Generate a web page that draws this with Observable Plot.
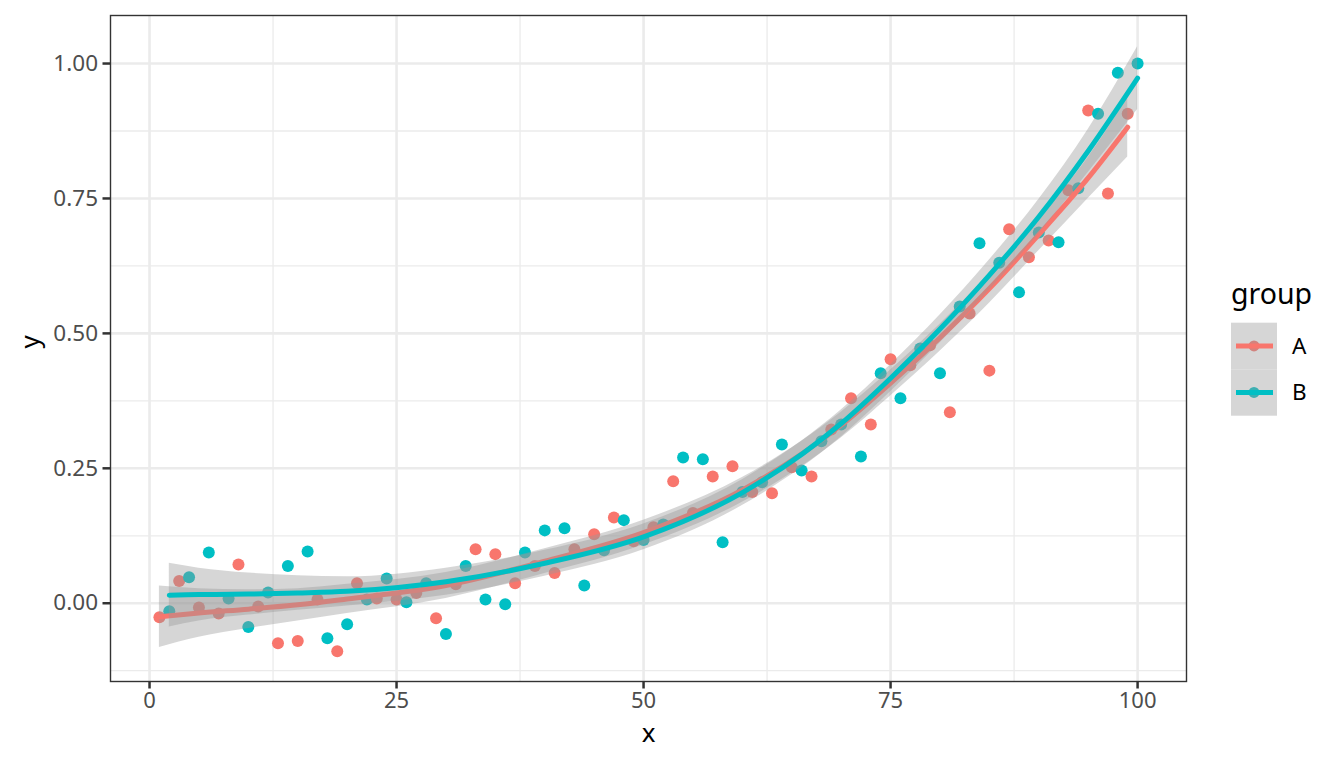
<!DOCTYPE html>
<html>
<head>
<meta charset="utf-8">
<script src="https://cdn.jsdelivr.net/npm/d3@7"></script>
<script src="https://cdn.jsdelivr.net/npm/@observablehq/plot@0.6"></script>
<style>
  html, body { margin: 0; padding: 0; background: #ffffff; }
  #chart { position: relative; width: 1344px; height: 768px; font-family: "Noto Sans", sans-serif; }
  #legend { position: absolute; left: 1220px; top: 270px; }
</style>
</head>
<body>
<div id="chart"></div>
<script>
// ---- data ----
const groups = ["A", "B"];
const groupColors = ["#F8766D", "#00BFC4"];

const xA = [1,3,5,7,9,11,13,15,17,19,21,23,25,27,29,31,33,35,37,39,41,43,45,47,49,51,53,55,57,59,61,63,65,67,69,71,73,75,77,79,81,83,85,87,89,91,93,95,97,99];
const yA = [-0.026,0.041,-0.008,-0.019,0.072,-0.006,-0.074,-0.070,0.007,-0.089,0.037,0.009,0.007,0.019,-0.028,0.035,0.100,0.091,0.037,0.069,0.056,0.100,0.128,0.159,0.115,0.141,0.226,0.167,0.235,0.254,0.206,0.204,0.252,0.235,0.322,0.380,0.331,0.452,0.441,0.478,0.354,0.537,0.431,0.693,0.641,0.672,0.765,0.913,0.759,0.907];

const xB = [2,4,6,8,10,12,14,16,18,20,22,24,26,28,30,32,34,36,38,40,42,44,46,48,50,52,54,56,58,60,62,64,66,68,70,72,74,76,78,80,82,84,86,88,90,92,94,96,98,100];
const yB = [-0.015,0.048,0.094,0.009,-0.044,0.020,0.069,0.096,-0.065,-0.039,0.007,0.046,0.002,0.037,-0.057,0.069,0.007,-0.002,0.094,0.135,0.139,0.033,0.098,0.154,0.117,0.146,0.270,0.267,0.113,0.206,0.224,0.294,0.246,0.300,0.331,0.272,0.426,0.380,0.472,0.426,0.550,0.667,0.631,0.576,0.687,0.669,0.769,0.907,0.983,1.000];

// smoothed fit and confidence band half-width
const fitXA = [1,5,10,15,20,30,40,50,60,70,75,80,85,90,95,99];
const fitYA = [-0.025,-0.018,-0.011,-0.003,0.008,0.033,0.078,0.131,0.210,0.330,0.408,0.492,0.583,0.683,0.788,0.882];
const bandA = [0.057,0.045,0.036,0.030,0.027,0.024,0.023,0.023,0.023,0.024,0.024,0.025,0.027,0.030,0.038,0.055];

const fitXB = [2,5,10,15,20,30,40,50,60,70,75,80,85,90,95,100];
const fitYB = [0.015,0.016,0.017,0.019,0.022,0.040,0.074,0.123,0.205,0.333,0.417,0.508,0.608,0.716,0.838,0.973];
const bandB = [0.059,0.049,0.039,0.032,0.027,0.025,0.024,0.024,0.024,0.025,0.025,0.026,0.028,0.032,0.040,0.058];

const xTicks = [0, 25, 50, 75, 100];
const xMinor = [12.5, 37.5, 62.5, 87.5];
const yTicks = [0, 0.25, 0.5, 0.75, 1.0];
const yMinor = [-0.125, 0.125, 0.375, 0.625, 0.875];

// ---- tables ----
const points = [
  ...xA.map((x, i) => ({x, y: yA[i], group: "A"})),
  ...xB.map((x, i) => ({x, y: yB[i], group: "B"}))
].sort((a, b) => a.x - b.x);

const fitA = fitXA.map((x, i) => ({x, y: fitYA[i], lo: fitYA[i] - bandA[i], hi: fitYA[i] + bandA[i], group: "A"}));
const fitB = fitXB.map((x, i) => ({x, y: fitYB[i], lo: fitYB[i] - bandB[i], hi: fitYB[i] + bandB[i], group: "B"}));

const ribbon = (data) => Plot.areaY(data, {x: "x", y1: "lo", y2: "hi", fill: "#999999", fillOpacity: 0.4, curve: "monotone-x"});
const fitLine = (data, c) => Plot.line(data, {x: "x", y: "y", stroke: c, strokeWidth: 5, curve: "monotone-x"});

const plot = Plot.plot({
  width: 1344,
  height: 768,
  marginLeft: 110,
  marginRight: 158,
  marginTop: 15,
  marginBottom: 87,
  style: {fontFamily: "Noto Sans", background: "#ffffff"},
  x: {domain: [-3.95, 104.95], label: null},
  y: {domain: [-0.145, 1.089], label: null},
  color: {domain: groups, range: groupColors},
  marks: [
    Plot.ruleX(xMinor, {stroke: "#ebebeb", strokeWidth: 1.3}),
    Plot.ruleY(yMinor, {stroke: "#ebebeb", strokeWidth: 1.3}),
    Plot.ruleX(xTicks, {stroke: "#ebebeb", strokeWidth: 2.6}),
    Plot.ruleY(yTicks, {stroke: "#ebebeb", strokeWidth: 2.6}),
    Plot.dot(points, {x: "x", y: "y", fill: "group", r: 6, stroke: null}),
    ribbon(fitA),
    fitLine(fitA, groupColors[0]),
    ribbon(fitB),
    fitLine(fitB, groupColors[1]),
    Plot.frame({stroke: "#333333", strokeWidth: 1.4}),
    Plot.axisX({ticks: xTicks, tickFormat: d3.format("d"), tickSize: 7.5, tickPadding: 3, fontSize: 22, fill: "#4d4d4d", stroke: "#333333", strokeWidth: 2.5, label: null}),
    Plot.axisY({ticks: yTicks, tickFormat: d3.format(".2f"), tickSize: 7.5, tickPadding: 5, fontSize: 22.5, fill: "#4d4d4d", stroke: "#333333", strokeWidth: 2.5, label: null}),
    Plot.text(["x"], {frameAnchor: "bottom", dy: 60, fontSize: 26, fill: "#000000"}),
    Plot.text(["y"], {frameAnchor: "left", dx: -80, rotate: -90, fontSize: 26, fill: "#000000"})
  ]
});

const chart = document.getElementById("chart");
chart.appendChild(plot);

// ---- legend ----
const leg = d3.select(chart).append("svg")
  .attr("id", "legend")
  .attr("width", 124).attr("height", 160)
  .style("font-family", "Noto Sans");
leg.append("text").attr("x", 11).attr("y", 33.5)
  .attr("font-size", 28.5).attr("fill", "#000").text("group");
groups.forEach((g, i) => {
  const top = 52.7 + 46.5 * i;
  const cy = top + 23.25;
  leg.append("rect").attr("x", 11).attr("y", top).attr("width", 46).attr("height", 46.5).attr("fill", "#ffffff");
  leg.append("circle").attr("cx", 34).attr("cy", cy).attr("r", 5.5).attr("fill", groupColors[i]);
  leg.append("rect").attr("x", 11).attr("y", top).attr("width", 46).attr("height", 46.5).attr("fill", "#999999").attr("fill-opacity", 0.4);
  leg.append("line").attr("x1", 16).attr("x2", 53).attr("y1", cy).attr("y2", cy)
    .attr("stroke", groupColors[i]).attr("stroke-width", 5);
  leg.append("text").attr("x", 72).attr("y", cy).attr("dy", "0.35em")
    .attr("font-size", 22.5).attr("fill", "#000").text(g);
});
</script>
</body>
</html>
